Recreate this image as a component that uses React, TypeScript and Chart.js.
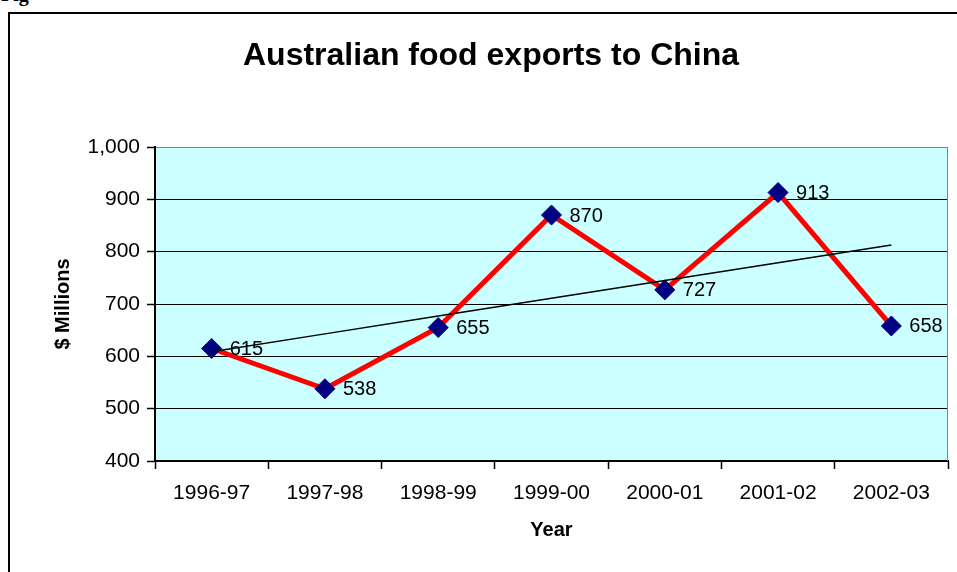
import React, { useEffect, useRef } from "react";
import { Chart, registerables } from "chart.js";

Chart.register(...registerables);

const categories = ["1996-97", "1997-98", "1998-99", "1999-00", "2000-01", "2001-02", "2002-03"];
const exportValues = [615, 538, 655, 870, 727, 913, 658];
const yTicks = [400, 500, 600, 700, 800, 900, 1000];
const chartTitle = "Australian food exports to China";
const yTitle = "$ Millions";
const xTitle = "Year";

// least-squares linear trend from the data values
function linearTrend(values: number[]): number[] {
  const n = values.length;
  const mx = (n - 1) / 2;
  const my = values.reduce((a, b) => a + b, 0) / n;
  let sxy = 0;
  let sxx = 0;
  values.forEach((v, i) => {
    sxy += (i - mx) * (v - my);
    sxx += (i - mx) * (i - mx);
  });
  const slope = sxy / sxx;
  return values.map((_, i) => my + slope * (i - mx));
}

const FONT = "Arial, 'Liberation Sans', sans-serif";
const CANVAS_W = 982;

export default function App() {
  const ref = useRef<HTMLCanvasElement | null>(null);

  useEffect(() => {
    if (!ref.current) return;
    const bgPlugin = {
      id: "plotBg",
      beforeDraw(chart: any) {
        const { ctx, chartArea } = chart;
        ctx.save();
        ctx.fillStyle = "#CCFFFF";
        ctx.fillRect(chartArea.left, chartArea.top, chartArea.right - chartArea.left, chartArea.bottom - chartArea.top);
        ctx.restore();
      },
      beforeDatasetsDraw(chart: any) {
        const { ctx, chartArea } = chart;
        ctx.save();
        ctx.strokeStyle = "#808080";
        ctx.lineWidth = 1;
        ctx.beginPath();
        ctx.moveTo(chartArea.right - 0.5, chartArea.top);
        ctx.lineTo(chartArea.right - 0.5, chartArea.bottom);
        ctx.stroke();
        ctx.restore();
      },
      afterDatasetDraw(chart: any, args: any) {
        if (args.index !== 0) return;
        const meta = chart.getDatasetMeta(0);
        const { ctx } = chart;
        ctx.save();
        ctx.fillStyle = "#000";
        ctx.font = `20px ${FONT}`;
        ctx.textAlign = "left";
        ctx.textBaseline = "middle";
        meta.data.forEach((pt: any, i: number) => {
          ctx.fillText(String(exportValues[i]), pt.x + 18, pt.y + 1);
        });
        ctx.restore();
      },
    };

    const chart = new Chart(ref.current, {
      type: "line",
      data: {
        labels: categories,
        datasets: [
          {
            label: "Exports",
            data: exportValues,
            borderColor: "#FF0000",
            borderWidth: 5,
            pointStyle: "rectRot",
            pointRadius: 10,
            pointBackgroundColor: "#000080",
            pointBorderColor: "#000080",
            pointBorderWidth: 1,
            tension: 0,
            order: 1,
          },
          {
            label: "Trend",
            data: linearTrend(exportValues),
            borderColor: "#000000",
            borderWidth: 1.5,
            pointRadius: 0,
            tension: 0,
            order: 0,
          },
        ],
      },
      options: {
        animation: false,
        responsive: false,
        maintainAspectRatio: false,
        events: [],
        layout: { padding: { left: 0, right: 0, top: 0, bottom: 0 } },
        plugins: {
          legend: { display: false },
          tooltip: { enabled: false },
          title: {
            display: true,
            text: chartTitle,
            color: "#000",
            font: { family: FONT, size: 32, weight: "bold", lineHeight: 1.2 },
            padding: { top: 37, bottom: 71.6 },
          },
        },
        scales: {
          x: {
            type: "category",
            offset: true,
            grid: {
              display: true,
              drawOnChartArea: false,
              drawTicks: true,
              tickLength: 8,
              tickColor: "#000",
              tickWidth: 1.5,
              color: "#000",
              offset: true,
            },
            border: { display: true, color: "#000", width: 2 },
            ticks: {
              color: "#000",
              font: { family: FONT, size: 21 },
              padding: 12,
              maxRotation: 0,
              autoSkip: false,
            },
            title: {
              display: true,
              text: xTitle,
              color: "#000",
              font: { family: FONT, size: 20, weight: "bold", lineHeight: 1.2 },
              padding: { top: 0, bottom: 30 },
            },
            afterFit(scale: any) {
              scale.height = 111;
              scale.paddingLeft = 0;
              scale.paddingRight = 0;
            },
          },
          y: {
            type: "linear",
            min: 400,
            max: 1000,
            afterBuildTicks(scale: any) {
              scale.ticks = yTicks.map((v) => ({ value: v }));
            },
            grid: {
              color: (c: any) => (c.tick && c.tick.value === 1000 ? "#808080" : "#000"),
              lineWidth: 1,
              tickLength: 8,
              tickColor: "#000",
              tickWidth: 1.5,
            },
            border: { display: true, color: "#000", width: 2 },
            ticks: {
              color: "#000",
              font: { family: FONT, size: 21 },
              padding: 7,
              callback: (v: any) => Number(v).toLocaleString("en-US"),
            },
            title: {
              display: true,
              text: yTitle,
              color: "#000",
              font: { family: FONT, size: 20, weight: "bold", lineHeight: 1.2 },
              padding: { top: 51, bottom: 0 },
            },
            afterFit(scale: any) {
              scale.width = 155;
            },
          },
          spacer: {
            type: "linear",
            position: "right",
            display: true,
            min: 400,
            max: 1000,
            grid: { display: false, drawOnChartArea: false, drawTicks: false },
            border: { display: false },
            ticks: { display: false },
            title: { display: false },
            afterFit(scale: any) {
              scale.width = CANVAS_W - 948;
              scale.paddingTop = 0;
              scale.paddingBottom = 0;
            },
          },
        },
      },
      plugins: [bgPlugin],
    } as any);

    return () => chart.destroy();
  }, []);

  return (
    <div style={{ position: "fixed", left: 0, top: 0, width: 957, height: 572, overflow: "hidden", background: "#fff" }}>
      <div
        style={{
          position: "absolute",
          left: 1,
          top: -14,
          font: "bold 20px 'Liberation Serif', 'Times New Roman', serif",
          lineHeight: "17px",
          whiteSpace: "nowrap",
          color: "#000",
        }}
      >
        Fig
      </div>
      <div
        style={{
          position: "absolute",
          left: 8,
          top: 12,
          width: 1000,
          height: 1000,
          border: "2px solid #000",
          boxSizing: "border-box",
        }}
      />
      <canvas
        ref={ref}
        width={CANVAS_W}
        height={572}
        style={{ position: "absolute", left: 0, top: 0, width: CANVAS_W, height: 572 }}
      />
    </div>
  );
}
